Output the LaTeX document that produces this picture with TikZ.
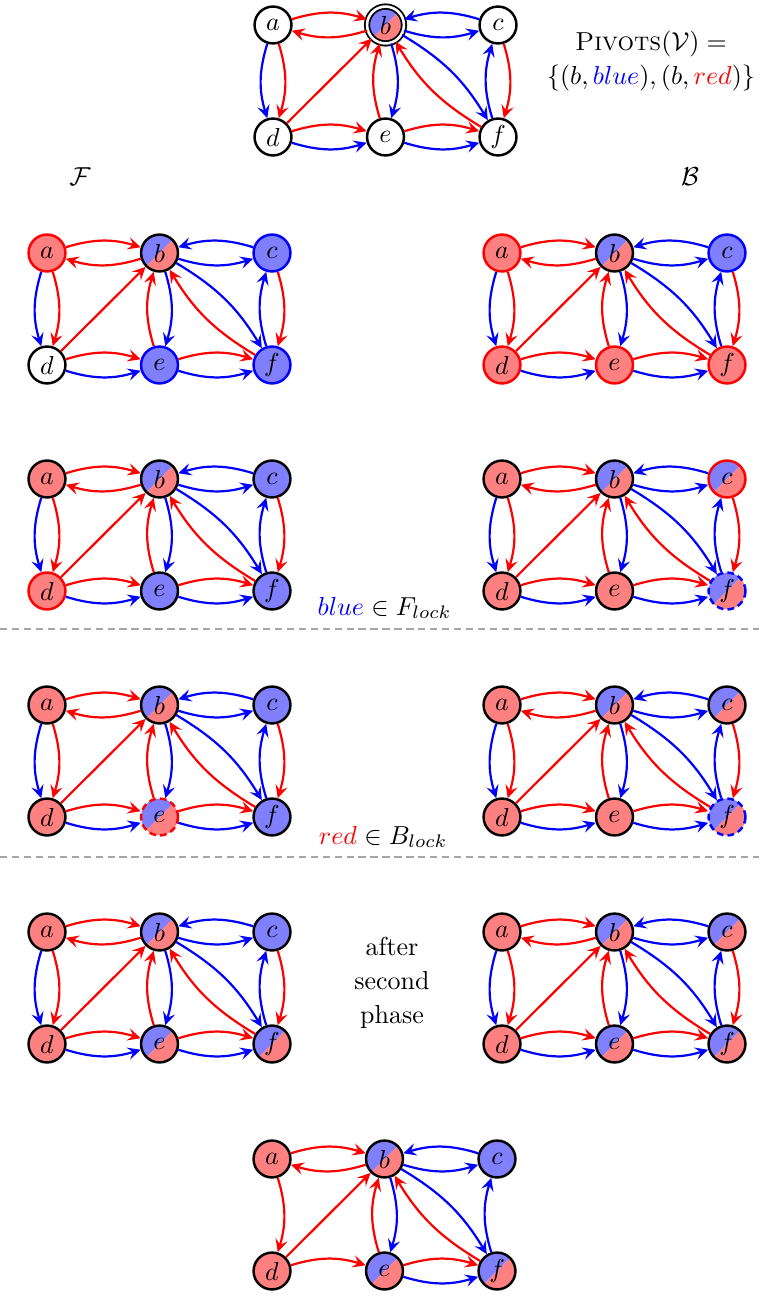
\documentclass[tikz,border=0pt]{standalone}
\usetikzlibrary{arrows.meta}
\begin{document}
\begin{tikzpicture}[x=0.385pt,y=-0.385pt,
  vx/.style={circle,minimum size=14.2pt,inner sep=0pt,line width=0.95pt,draw=black,fill=white},
  wn/.style={},
  rn/.style={fill=red!50},
  bn/.style={fill=blue!50},
  rr/.style={fill=red!50,draw=red},
  bb/.style={fill=blue!50,draw=blue},
  split/.style={path picture={
    \fill[blue!50] (path picture bounding box.south west) -- (path picture bounding box.north west) -- (path picture bounding box.north east) -- cycle;
    \fill[red!50] (path picture bounding box.south west) -- (path picture bounding box.south east) -- (path picture bounding box.north east) -- cycle;}},
  sn/.style={split},
  sr/.style={split,draw=red},
  sbd/.style={split,draw=blue,dash pattern=on 2.6pt off 1.6pt},
  srd/.style={split,draw=red,dash pattern=on 2.6pt off 1.6pt},
  sdbl/.style={split,double,double distance=1pt,line width=0.7pt},
  edgebase/.style={line width=0.85pt,-{Stealth[length=5pt,width=4.8pt,inset=2pt]}},
  re/.style={edgebase,draw=red},
  be/.style={edgebase,draw=blue},
  sepline/.style={draw=gray!70,line width=0.5pt,dash pattern=on 2.8pt off 1.8pt},
  lbl/.style={inner sep=0pt}
]
\useasboundingbox (0,0) rectangle (759,1300);

\newcommand{\gnodes}[8]{%
  \begin{scope}[shift={#2}]
    \node[vx,#3] (#1a) at (0,0) {$a$};
    \node[vx,#4] (#1b) at (112.5,0) {$b$};
    \node[vx,#5] (#1c) at (225,0) {$c$};
    \node[vx,#6] (#1d) at (0,112) {$d$};
    \node[vx,#7] (#1e) at (112.5,112) {$e$};
    \node[vx,#8] (#1f) at (225,112) {$f$};
  \end{scope}}
\newcommand{\gedgesbase}[1]{%
  \draw[re] (#1a) to[bend left=17] (#1b);
  \draw[re] (#1b) to[bend left=17] (#1a);
  \draw[re] (#1a) to[bend left=17] (#1d);
  \draw[re] (#1d) -- (#1b);
  \draw[re] (#1d) to[bend left=17] (#1e);
  \draw[re] (#1e) to[bend left=17] (#1b);
  \draw[re] (#1e) to[bend left=17] (#1f);
  \draw[re] (#1f) to[bend left=14] (#1b);
  \draw[be] (#1b) to[bend left=17] (#1e);
  \draw[be] (#1b) to[bend left=14] (#1f);
  \draw[be] (#1b) to[bend right=17] (#1c);
  \draw[be] (#1c) to[bend right=17] (#1b);
  \draw[be] (#1e) to[bend right=17] (#1f);
  \draw[be] (#1f) to[bend left=17] (#1c);}
\newcommand{\gedgesextra}[1]{%
  \draw[be] (#1a) to[bend right=17] (#1d);
  \draw[be] (#1d) to[bend right=17] (#1e);
  \draw[re] (#1c) to[bend left=17] (#1f);}

% top graph
\gnodes{t}{(273,25)}{wn}{sdbl}{wn}{wn}{wn}{wn}
\gedgesbase{t}\gedgesextra{t}
\node[lbl,align=center] (piv) at (651,61) {\textsc{Pivots}$(\mathcal{V})=$\\[1pt]$\{(b,\textcolor{blue}{blue}),(b,\textcolor{red}{red})\}$};

\node[lbl] (calF) at (80,177) {$\mathcal{F}$};
\node[lbl] (calB) at (690,177) {$\mathcal{B}$};

% row 1
\gnodes{fa}{(47,253)}{rr}{sn}{bb}{wn}{bb}{bb}
\gedgesbase{fa}\gedgesextra{fa}
\gnodes{ba}{(502,253)}{rr}{sn}{bb}{rr}{rr}{rr}
\gedgesbase{ba}\gedgesextra{ba}

% row 2
\gnodes{fb}{(47,479)}{rn}{sn}{bn}{rr}{bn}{bn}
\gedgesbase{fb}\gedgesextra{fb}
\gnodes{bb}{(502,479)}{rn}{sn}{sr}{rn}{rn}{sbd}
\gedgesbase{bb}\gedgesextra{bb}
\node[lbl,anchor=east] (flock) at (452,608) {$\textcolor{blue}{blue}\in F_{lock}$};
\coordinate (s1l) at (0,629);
\coordinate (s1r) at (759,629);
\draw[sepline] (s1l) -- (s1r);

% row 3
\gnodes{fc}{(47,705)}{rn}{sn}{bn}{rn}{srd}{bn}
\gedgesbase{fc}\gedgesextra{fc}
\gnodes{bc}{(502,705)}{rn}{sn}{sn}{rn}{rn}{sbd}
\gedgesbase{bc}\gedgesextra{bc}
\node[lbl,anchor=east] (block) at (448,837) {$\textcolor{red}{red}\in B_{lock}$};
\coordinate (s2l) at (0,857);
\coordinate (s2r) at (759,857);
\draw[sepline] (s2l) -- (s2r);

% row 4
\gnodes{fd}{(47,932)}{rn}{sn}{bn}{rn}{sn}{sn}
\gedgesbase{fd}\gedgesextra{fd}
\gnodes{bd}{(502,932)}{rn}{sn}{sn}{rn}{sn}{sn}
\gedgesbase{bd}\gedgesextra{bd}
\node[lbl,align=center] (phase) at (392,983) {after\\[1.2pt]second\\[1.2pt]phase};

% final
\gnodes{z}{(272,1159)}{rn}{sn}{bn}{rn}{sn}{sn}
\gedgesbase{z}
\end{tikzpicture}
\end{document}
